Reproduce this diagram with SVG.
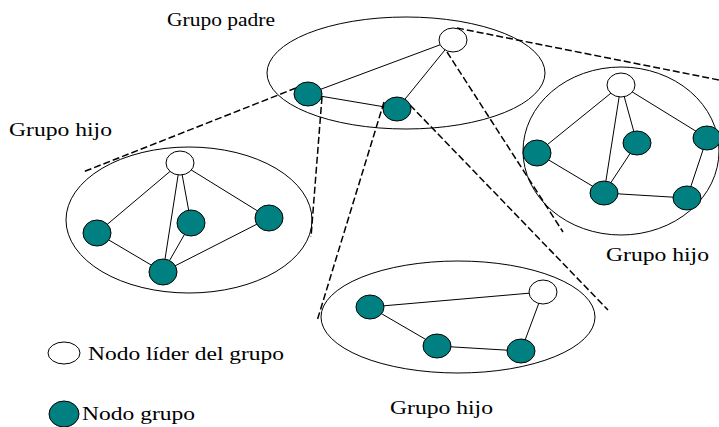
<svg xmlns="http://www.w3.org/2000/svg" width="719" height="427" viewBox="0 0 719 427">
<style>
.grp{fill:none;stroke:#000;stroke-width:1}
.lead{fill:#fff;stroke:#000;stroke-width:1}
.node{fill:#008080;stroke:#000;stroke-width:1}
.edge{stroke:#000;stroke-width:1;fill:none}
.dash{stroke:#000;stroke-width:1.5;stroke-dasharray:7 3;fill:none}
text{font-family:"Liberation Serif","Times New Roman",serif;font-size:19px;fill:#000}
</style>
<rect width="719" height="427" fill="#fff"/>
<g id="connectors">
<line class="edge" x1="453" y1="40" x2="308" y2="94"/>
<line class="edge" x1="453" y1="40" x2="397" y2="109"/>
<line class="edge" x1="308" y1="94" x2="397" y2="109"/>
<line class="edge" x1="621" y1="85" x2="537" y2="153"/>
<line class="edge" x1="621" y1="85" x2="604" y2="193"/>
<line class="edge" x1="621" y1="85" x2="637" y2="143"/>
<line class="edge" x1="621" y1="85" x2="707" y2="138"/>
<line class="edge" x1="637" y1="143" x2="604" y2="193"/>
<line class="edge" x1="537" y1="153" x2="604" y2="193"/>
<line class="edge" x1="604" y1="193" x2="687" y2="198"/>
<line class="edge" x1="687" y1="198" x2="707" y2="138"/>
<line class="edge" x1="180" y1="163" x2="97" y2="233"/>
<line class="edge" x1="180" y1="163" x2="163" y2="272"/>
<line class="edge" x1="180" y1="163" x2="191" y2="223"/>
<line class="edge" x1="180" y1="163" x2="269" y2="218"/>
<line class="edge" x1="191" y1="223" x2="163" y2="272"/>
<line class="edge" x1="97" y1="233" x2="163" y2="272"/>
<line class="edge" x1="163" y1="272" x2="269" y2="218"/>
<line class="edge" x1="370" y1="307" x2="543" y2="292"/>
<line class="edge" x1="370" y1="307" x2="437" y2="346"/>
<line class="edge" x1="437" y1="346" x2="521" y2="351"/>
<line class="edge" x1="521" y1="351" x2="543" y2="292"/>
<line class="dash" x1="296" y1="88" x2="83" y2="172"/>
<line class="dash" x1="322" y1="97" x2="311" y2="237"/>
<line class="dash" x1="384" y1="102" x2="317" y2="321"/>
<line class="dash" x1="410" y1="105" x2="608" y2="310"/>
<line class="dash" x1="447" y1="52" x2="563" y2="232"/>
<line class="dash" x1="457" y1="28" x2="719" y2="80"/>
</g>
<g id="parent-group"><ellipse class="grp" cx="406" cy="73" rx="139" ry="56"/></g>
<g id="left-group"><ellipse class="grp" cx="189" cy="220" rx="123" ry="73"/></g>
<g id="right-group"><ellipse class="grp" cx="621" cy="151" rx="98" ry="84"/></g>
<g id="bottom-group"><ellipse class="grp" cx="458" cy="317" rx="137" ry="56"/></g>
<g id="p-leader"><ellipse class="lead" cx="453" cy="40" rx="14" ry="12"/></g>
<g id="p-a"><ellipse class="node" cx="308" cy="94" rx="14" ry="12"/></g>
<g id="p-b"><ellipse class="node" cx="397" cy="109" rx="14" ry="12"/></g>
<g id="r-leader"><ellipse class="lead" cx="621" cy="85" rx="14" ry="12"/></g>
<g id="r-1"><ellipse class="node" cx="537" cy="153" rx="14" ry="13"/></g>
<g id="r-2"><ellipse class="node" cx="637" cy="143" rx="14" ry="12"/></g>
<g id="r-3"><ellipse class="node" cx="707" cy="138" rx="14" ry="12"/></g>
<g id="r-4"><ellipse class="node" cx="604" cy="193" rx="14" ry="12"/></g>
<g id="r-5"><ellipse class="node" cx="687" cy="198" rx="14" ry="12"/></g>
<g id="l-leader"><ellipse class="lead" cx="180" cy="163" rx="14" ry="12"/></g>
<g id="l-1"><ellipse class="node" cx="97" cy="233" rx="14" ry="13"/></g>
<g id="l-2"><ellipse class="node" cx="191" cy="223" rx="14" ry="13"/></g>
<g id="l-3"><ellipse class="node" cx="269" cy="218" rx="14" ry="13"/></g>
<g id="l-4"><ellipse class="node" cx="163" cy="272" rx="14" ry="13"/></g>
<g id="b-leader"><ellipse class="lead" cx="543" cy="292" rx="14" ry="12"/></g>
<g id="b-1"><ellipse class="node" cx="370" cy="307" rx="14" ry="12"/></g>
<g id="b-2"><ellipse class="node" cx="437" cy="346" rx="14" ry="12"/></g>
<g id="b-3"><ellipse class="node" cx="521" cy="351" rx="14" ry="12"/></g>
<g id="legend-leader"><ellipse class="lead" cx="64" cy="353" rx="16" ry="11"/><text x="88" y="360" textLength="196" lengthAdjust="spacingAndGlyphs">Nodo líder del grupo</text></g>
<g id="legend-node"><ellipse class="node" cx="64" cy="414" rx="15" ry="13"/><text x="82" y="420" textLength="113" lengthAdjust="spacingAndGlyphs">Nodo grupo</text></g>
<g id="labels">
<text x="167" y="26" textLength="108" lengthAdjust="spacingAndGlyphs">Grupo padre</text>
<text x="9" y="136" textLength="103" lengthAdjust="spacingAndGlyphs">Grupo hijo</text>
<text x="606" y="261" textLength="103" lengthAdjust="spacingAndGlyphs">Grupo hijo</text>
<text x="390" y="414" textLength="103" lengthAdjust="spacingAndGlyphs">Grupo hijo</text>
</g>
</svg>
